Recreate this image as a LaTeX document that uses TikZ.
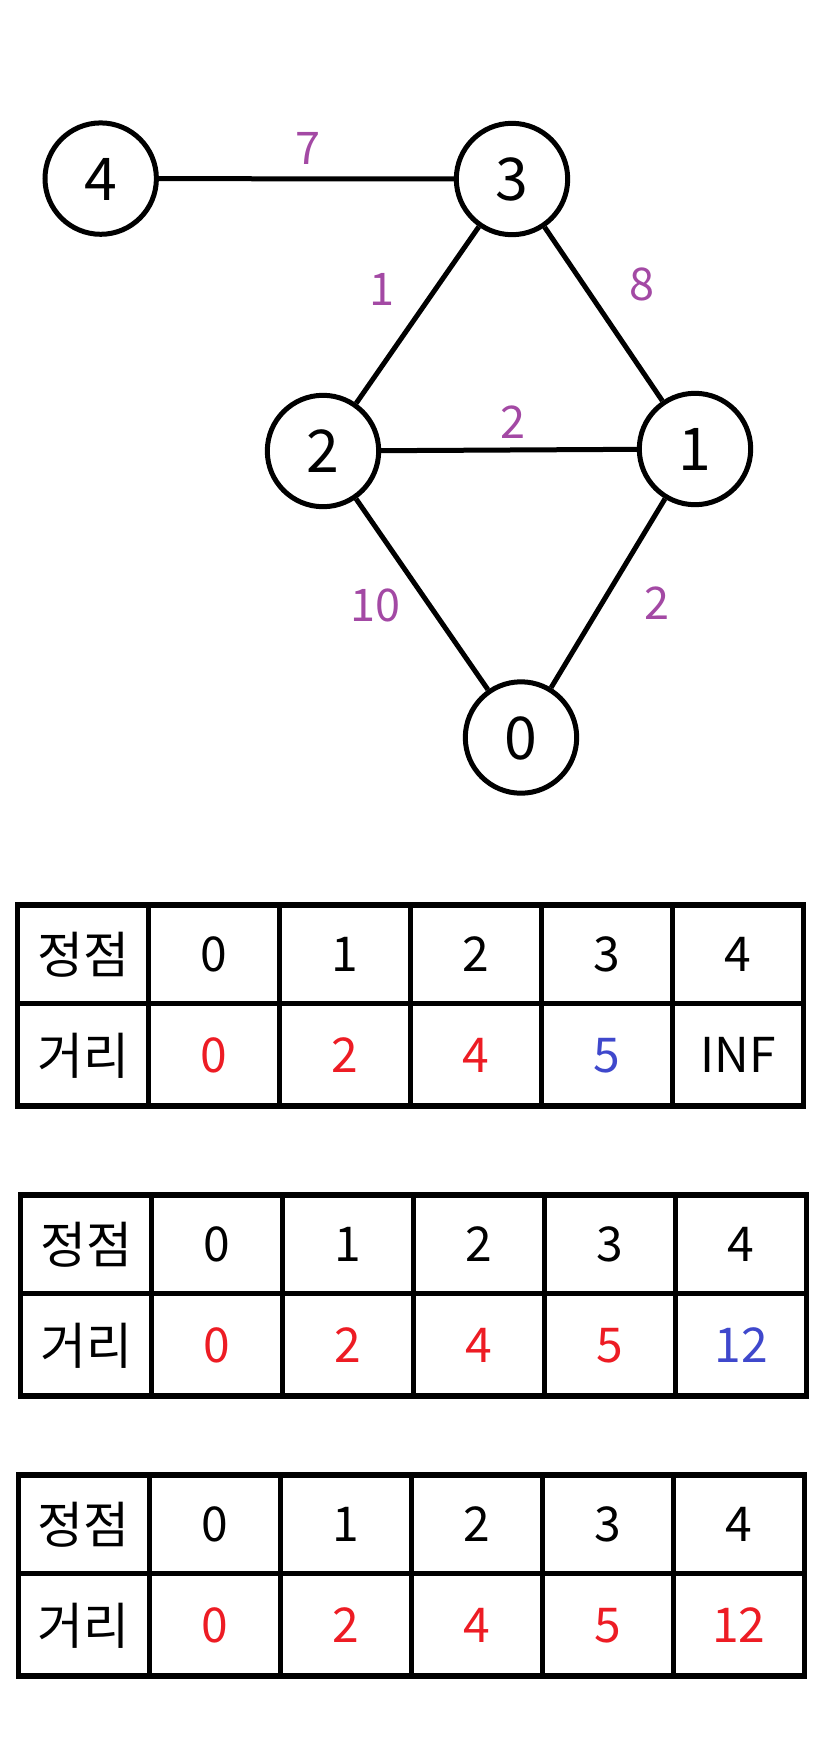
\documentclass[tikz,border=0pt]{standalone}
\usepackage{fontspec}
\newfontfamily\kr{Noto Sans CJK KR}
\definecolor{wpurple}{HTML}{A349A4}
\definecolor{wred}{HTML}{ED1C24}
\definecolor{wblue}{HTML}{3F48CC}
\tikzset{
  vtx/.style={circle, draw=black, line width=5pt, minimum size=111.4pt, inner sep=0pt,
    font=\kr\fontsize{59}{60}\selectfont, text height=43.2pt, text depth=0pt},
  edge/.style={draw=black, line width=5pt},
  wlabel/.style={text=wpurple, inner sep=0pt, font=\kr\fontsize{45}{46}\selectfont, text height=33pt, text depth=0pt},
  tbl/.style={draw=black, line width=5.2pt},
  cell/.style={inner sep=0pt, font=\kr\fontsize{48}{49}\selectfont, text height=35.2pt, text depth=0pt},
  hcell/.style={inner sep=0pt, font=\kr\fontsize{50}{51}\selectfont, text height=38pt, text depth=0pt}
}
\newcommand{\distTable}[4]{% #1 name, #2 x0, #3 y0, #4 list value/color
  \draw[tbl] (#2,#3) rectangle ++(786,201);
  \draw[tbl] (#2,#3+98.5) -- ++(786,0);
  \foreach \i in {1,...,5} { \draw[tbl] (#2+131*\i,#3) -- ++(0,201); }
  \node[hcell] (#1h) at (#2+65.5,#3+49.25) {정점};
  \node[hcell] (#1r) at (#2+65.5,#3+150) {거리};
  \foreach \i in {0,...,4} { \node[cell] (#1c\i) at (#2+196.5+131*\i,#3+49.25) {\i}; }
  \foreach \v/\c [count=\k from 0] in {#4} { \node[cell, text=\c] (#1d\k) at (#2+196.5+131*\k,#3+150) {\v}; }
}
\begin{document}
\begin{tikzpicture}[x=1pt,y=-1pt]
\useasboundingbox (0,0) rectangle (828,1740);
% graph
\node[vtx] (n4) at (100.7,178.6) {4};
\node[vtx] (n3) at (512,179) {3};
\node[vtx] (n2) at (323,451) {2};
\node[vtx] (n1) at (695,449) {1};
\node[vtx] (n0) at (521,737.5) {0};
\draw[edge] (n4) -- (n3);
\draw[edge] (n3) -- (n2);
\draw[edge] (n3) -- (n1);
\draw[edge] (n2) -- (n1);
\draw[edge] (n2) -- (n0);
\draw[edge] (n1) -- (n0);
\node[wlabel] (w43) at (307.5,148) {7};
\node[wlabel] (w32) at (382,288.6) {1};
\node[wlabel] (w31) at (641.5,284) {8};
\node[wlabel] (w21) at (513,422) {2};
\node[wlabel] (w20) at (375,605) {10};
\node[wlabel] (w10) at (657,603) {2};
% tables
\distTable{ta}{17.5}{905}{0/wred,2/wred,4/wred,5/wblue,INF/black}
\distTable{tb}{20.5}{1195}{0/wred,2/wred,4/wred,5/wred,12/wblue}
\distTable{tc}{18.3}{1475}{0/wred,2/wred,4/wred,5/wred,12/wred}
\end{tikzpicture}
\end{document}
